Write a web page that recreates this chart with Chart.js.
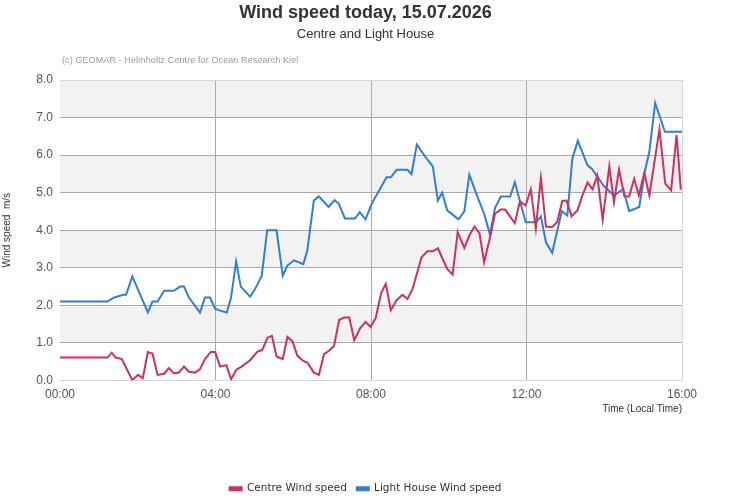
<!DOCTYPE html>
<html>
<head>
<meta charset="utf-8">
<script src="https://cdn.jsdelivr.net/npm/chart.js@4.4.0/dist/chart.umd.min.js"></script>
<style>
  body { margin: 0; background: #fff; }
  #wrap { position: relative; width: 731px; height: 500px; overflow: hidden; }
  .txt { position: absolute; font-family: "Liberation Sans", Arial, sans-serif; white-space: nowrap; }
  #title { left: 0; width: 731px; top: 2px; text-align: center; font-size: 18px; font-weight: bold; color: #333; }
  #subtitle { left: 0; width: 731px; top: 26px; text-align: center; font-size: 13px; color: #333; }
  #credit { left: 62px; top: 55px; font-size: 9px; color: #999; letter-spacing: 0.1px; }
</style>
</head>
<body>
<div id="wrap">
  <canvas id="windChart" width="731" height="500"></canvas>
  <div class="txt" id="title">Wind speed today, 15.07.2026</div>
  <div class="txt" id="subtitle">Centre and Light House</div>
  <div class="txt" id="credit">(c) GEOMAR - Helmholtz Centre for Ocean Research Kiel</div>
</div>
<script>
// hours since midnight, m/s
var centreTimes = [0, 1.22, 1.33, 1.43, 1.59, 1.86, 2.01, 2.13, 2.26, 2.38, 2.51, 2.68, 2.80, 2.93, 3.06, 3.19, 3.32, 3.47, 3.60, 3.73, 3.88, 3.99,
    4.12, 4.28, 4.40, 4.53, 4.67, 4.89, 5.08, 5.20, 5.34, 5.45, 5.57, 5.73, 5.85, 5.98, 6.11, 6.26, 6.36, 6.53, 6.66, 6.79, 6.92, 7.05,
    7.18, 7.31, 7.44, 7.57, 7.72, 7.86, 7.99, 8.12, 8.26, 8.38, 8.51, 8.66, 8.81, 8.94, 9.07, 9.30, 9.45, 9.59, 9.72, 9.96, 10.10,
    10.23, 10.40, 10.53, 10.66, 10.79, 10.91, 11.06, 11.19, 11.34, 11.45, 11.70, 11.83, 11.98, 12.11, 12.24, 12.37, 12.50, 12.66,
    12.79, 12.92, 13.03, 13.16, 13.31, 13.44, 13.57, 13.70, 13.82, 13.96, 14.13, 14.25, 14.38, 14.52, 14.64, 14.77, 14.89, 15.03,
    15.16, 15.42, 15.57, 15.72, 15.86, 15.97];
var centreSpeed = [0.61, 0.61, 0.74, 0.61, 0.57, 0.01, 0.15, 0.06, 0.76, 0.72, 0.15, 0.18, 0.33, 0.19, 0.21, 0.37, 0.23, 0.21, 0.30, 0.57, 0.76, 0.76,
    0.37, 0.41, 0.03, 0.28, 0.37, 0.54, 0.77, 0.81, 1.14, 1.19, 0.64, 0.57, 1.16, 1.04, 0.65, 0.52, 0.48, 0.21, 0.15, 0.70, 0.79, 0.92,
    1.61, 1.68, 1.68, 1.07, 1.39, 1.56, 1.43, 1.66, 2.32, 2.57, 1.87, 2.14, 2.28, 2.17, 2.44, 3.28, 3.44, 3.44, 3.52, 2.97, 2.82,
    3.95, 3.53, 3.86, 4.10, 3.92, 3.15, 3.80, 4.44, 4.55, 4.55, 4.19, 4.77, 4.66, 5.09, 4.05, 5.39, 4.10, 4.08,
    4.22, 4.78, 4.79, 4.37, 4.53, 4.93, 5.27, 5.09, 5.46, 4.28, 5.70, 4.75, 5.62, 4.90, 4.90, 5.37, 4.93, 5.52,
    4.93, 6.68, 5.24, 5.06, 6.53, 5.08];

var lightTimes = [0, 1.22, 1.37, 1.52, 1.63, 1.70, 1.86, 2.26, 2.38, 2.51, 2.68, 2.93, 3.09, 3.19, 3.32, 3.60, 3.73, 3.86, 3.99, 4.12, 4.29,
    4.40, 4.53, 4.65, 4.89, 5.02, 5.19, 5.33, 5.57, 5.73, 5.85, 6.02, 6.26, 6.36, 6.53, 6.66, 6.91, 7.06, 7.17, 7.33, 7.59, 7.71,
    7.86, 8.02, 8.26, 8.40, 8.51, 8.66, 8.94, 9.04, 9.18, 9.43, 9.59, 9.72, 9.83, 9.96, 10.25, 10.40, 10.53, 10.69, 10.91, 11.06,
    11.19, 11.34, 11.58, 11.70, 11.98, 12.25, 12.37, 12.50, 12.66, 12.91, 13.05, 13.18, 13.32, 13.57, 13.68, 13.98, 14.25, 14.49,
    14.64, 14.90, 15.05, 15.16, 15.31, 15.56, 16.0];
var lightSpeed = [2.1, 2.1, 2.2, 2.25, 2.28, 2.28, 2.77, 1.81, 2.1, 2.1, 2.39, 2.39, 2.5, 2.5, 2.2, 1.81, 2.21, 2.21, 1.91, 1.86, 1.81,
    2.2, 3.17, 2.5, 2.23, 2.44, 2.79, 4.0, 4.0, 2.79, 3.06, 3.2, 3.1, 3.46, 4.79, 4.9, 4.62, 4.8, 4.71, 4.31, 4.31, 4.48,
    4.29, 4.71, 5.15, 5.41, 5.41, 5.61, 5.61, 5.49, 6.28, 5.91, 5.70, 4.79, 5.0, 4.53, 4.29, 4.5, 5.48, 5.02, 4.44, 3.89,
    4.59, 4.90, 4.90, 5.28, 4.21, 4.21, 4.37, 3.68, 3.40, 4.51, 4.39, 5.91, 6.38, 5.73, 5.64, 5.19, 4.92, 5.10,
    4.51, 4.62, 5.60, 6.09, 7.39, 6.62, 6.62];

var yTicks = [0, 1, 2, 3, 4, 5, 6, 7, 8];
var xTicks = [0, 4, 8, 12, 16];

function toPoints(ts, vs) {
    return ts.map(function (t, i) { return { x: t, y: vs[i] }; });
}

// alternating grey bands behind the plot
var bandPlugin = {
    id: 'bands',
    beforeDraw: function (chart) {
        var c = chart.ctx, a = chart.chartArea, y = chart.scales.y;
        c.save();
        c.fillStyle = '#f2f2f2';
        for (var v = 1; v < 8; v += 2) {
            var top = y.getPixelForValue(v + 1), bot = y.getPixelForValue(v);
            c.fillRect(a.left, top, a.right - a.left, bot - top);
        }
        c.restore();
    }
};

var ctx = document.getElementById('windChart');
var windChart = new Chart(ctx, {
    type: 'line',
    data: {
        datasets: [{
            label: 'Centre Wind speed',
            data: toPoints(centreTimes, centreSpeed),
            borderColor: '#d0305a',
            backgroundColor: '#d0305a',
            borderWidth: 2,
            pointRadius: 0,
            tension: 0
        }, {
            label: 'Light House Wind speed',
            data: toPoints(lightTimes, lightSpeed),
            borderColor: '#2f7ed8',
            backgroundColor: '#2f7ed8',
            borderWidth: 2,
            pointRadius: 0,
            tension: 0
        }]
    },
    options: {
        responsive: false,
        animation: false,
        layout: { padding: { left: 0, top: 80, right: 0, bottom: -4 } },
        plugins: {
            tooltip: { enabled: false },
            legend: {
                position: 'bottom',
                labels: {
                    boxWidth: 12,
                    boxHeight: 3,
                    padding: 10,
                    color: '#333',
                    font: { family: 'DejaVu Sans', size: 10.5 }
                }
            }
        },
        scales: {
            x: {
                type: 'linear',
                min: 0,
                max: 16,
                afterBuildTicks: function (s) { s.ticks = xTicks.map(function (v) { return { value: v }; }); },
                afterFit: function (s) { s.height = 93; },
                ticks: {
                    padding: 7,
                    color: '#555',
                    font: { family: 'Liberation Sans', size: 12 },
                    maxRotation: 0,
                    callback: function (v) { return (v < 10 ? '0' : '') + v + ':00'; }
                },
                grid: {
                    drawTicks: false,
                    color: function (c) {
                        if (c.tick.value === 0) return 'rgba(0,0,0,0)';
                        return c.tick.value === 16 ? '#d8d8d8' : '#aaaaaa';
                    }
                },
                border: { color: '#d8d8d8' },
                title: {
                    display: true,
                    text: 'Time (Local Time)',
                    align: 'end',
                    color: '#333',
                    font: { family: 'Liberation Sans', size: 10 },
                    padding: { top: 0, bottom: 58 }
                }
            },
            y: {
                min: 0,
                max: 8,
                afterBuildTicks: function (s) { s.ticks = yTicks.map(function (v) { return { value: v }; }); },
                afterFit: function (s) { s.width = 60; },
                ticks: {
                    padding: 7,
                    color: '#555',
                    font: { family: 'Liberation Sans', size: 12 },
                    callback: function (v) { return v.toFixed(1); }
                },
                grid: {
                    drawTicks: false,
                    color: function (c) {
                        return (c.tick.value === 8 || c.tick.value === 0) ? '#d8d8d8' : '#aaaaaa';
                    }
                },
                border: { display: false },
                title: {
                    display: true,
                    text: 'Wind speed  m/s',
                    color: '#333',
                    font: { family: 'Liberation Sans', size: 10 },
                    padding: { top: 1, bottom: 0 }
                }
            },
            // empty right axis, only to keep the right margin
            yRight: {
                position: 'right',
                min: 0,
                max: 8,
                afterFit: function (s) { s.width = 49; },
                ticks: { display: false },
                grid: { drawOnChartArea: false, drawTicks: false },
                border: { display: false }
            }
        }
    },
    plugins: [bandPlugin]
});
</script>
</body>
</html>
